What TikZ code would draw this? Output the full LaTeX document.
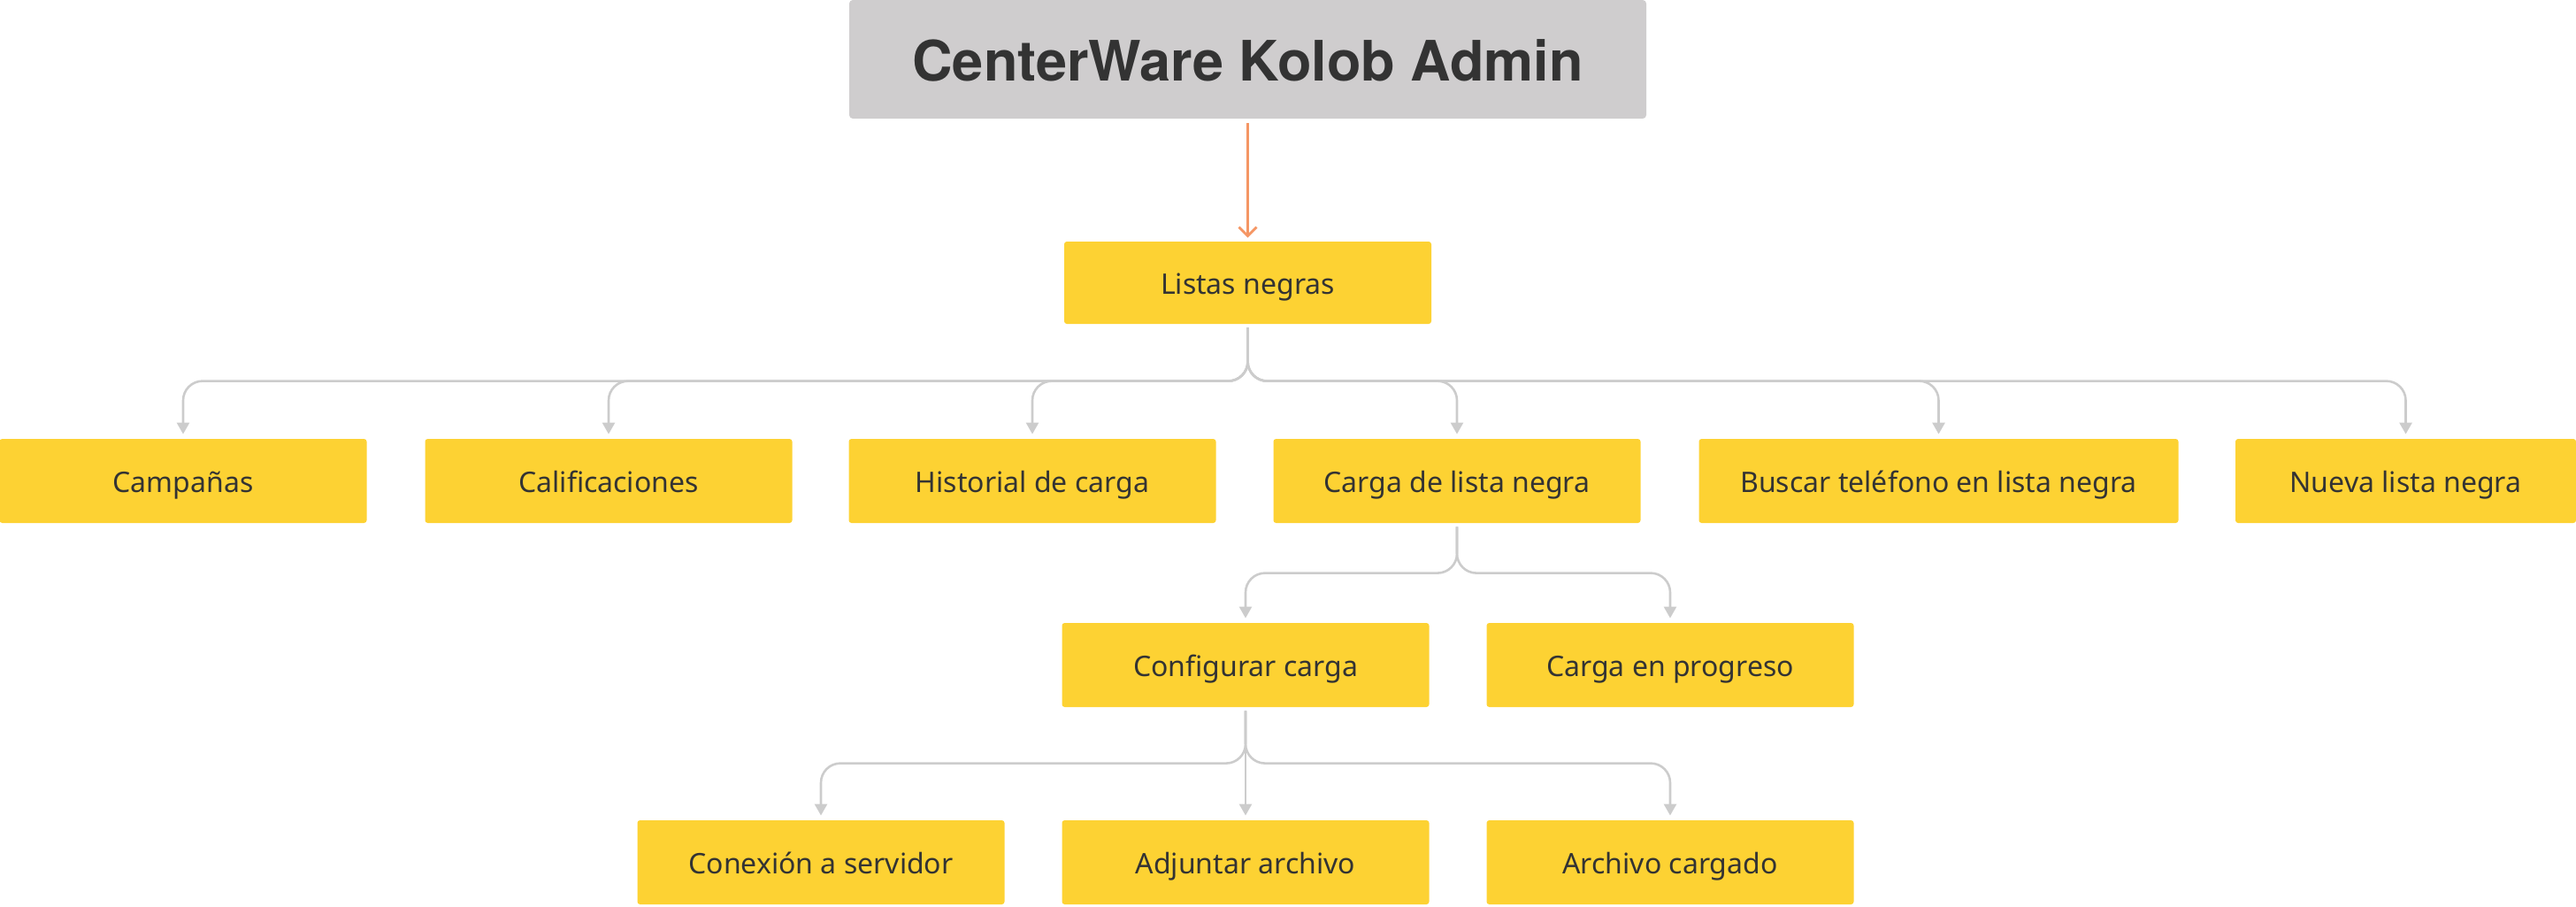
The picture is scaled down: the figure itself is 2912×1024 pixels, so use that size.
\documentclass[tikz,border=0pt]{standalone}
\usepackage{fontspec}
\setmainfont{Noto Sans}
\newfontfamily\titlefont{TeX Gyre Heros}
\usetikzlibrary{arrows.meta,calc}
\definecolor{ybox}{RGB}{253,210,51}
\definecolor{gbox}{RGB}{207,205,206}
\definecolor{txt}{RGB}{51,51,51}
\definecolor{lgray}{RGB}{204,204,204}
\definecolor{orng}{RGB}{245,150,100}
\begin{document}
\begin{tikzpicture}[x=0.5pt,y=-0.5pt,
  box/.style={fill=ybox, rounded corners=1.5pt, minimum width=207.5pt, minimum height=47.5pt, inner sep=0pt, text=txt, text height=12.5pt, text depth=0pt, font=\fontsize{16}{19}\selectfont},
  titlebox/.style={fill=gbox, rounded corners=2pt, minimum width=450.5pt, minimum height=67pt, inner sep=0pt, text=txt, text height=24.6pt, text depth=0pt, font=\titlefont\fontsize{31.5}{38}\selectfont\bfseries},
  conn/.style={draw=lgray, line width=1.3pt, rounded corners=11pt, -{Triangle[width=7pt,length=6.5pt]}},
  oconn/.style={draw=orng, line width=1.4pt, -{Straight Barb[width=10pt,length=5pt,line width=1.4pt]}}
]
\useasboundingbox (0,0) rectangle (2912,1024);
\node[titlebox] (title) at (1410.5,67) {CenterWare Kolob Admin};
\node[box, minimum height=46.5pt] (listas) at (1410.5,319.5) {Listas negras};
\node[box] (camp) at (207,543.5) {Campañas};
\node[box] (calif) at (688,543.5) {Calificaciones};
\node[box] (hist) at (1167,543.5) {Historial de carga};
\node[box] (carga) at (1647,543.5) {Carga de lista negra};
\node[box, minimum width=271pt] (buscar) at (2191.5,543.5) {Buscar teléfono en lista negra};
\node[box, minimum width=192.5pt] (nueva) at (2719.5,543.5) {Nueva lista negra};
\node[box] (config) at (1408,751.5) {Configurar carga};
\node[box] (progreso) at (1888,751.5) {Carga en progreso};
\node[box] (conexion) at (928,974.5) {Conexión a servidor};
\node[box] (adjuntar) at (1408,974.5) {Adjuntar archivo};
\node[box] (archivo) at (1888,974.5) {Archivo cargado};

\draw[oconn] ($(title.south)+(0,5)$) -- ($(listas.north)+(0,-4)$);

\foreach \c in {camp,calif,hist,carga,buscar,nueva}
  \draw[conn] ($(listas.south)+(0,4)$) |- ($(\c.north)+(0,-65)$) -- ($(\c.north)+(0,-5)$);
\foreach \c in {config,progreso}
  \draw[conn] ($(carga.south)+(0,4)$) |- ($(\c.north)+(0,-56)$) -- ($(\c.north)+(0,-5)$);
\foreach \c in {conexion,archivo}
  \draw[conn] ($(config.south)+(0,4)$) |- ($(\c.north)+(0,-64)$) -- ($(\c.north)+(0,-5)$);
\draw[conn] ($(config.south)+(0,4)$) -- ($(adjuntar.north)+(0,-5)$);
\end{tikzpicture}
\end{document}
